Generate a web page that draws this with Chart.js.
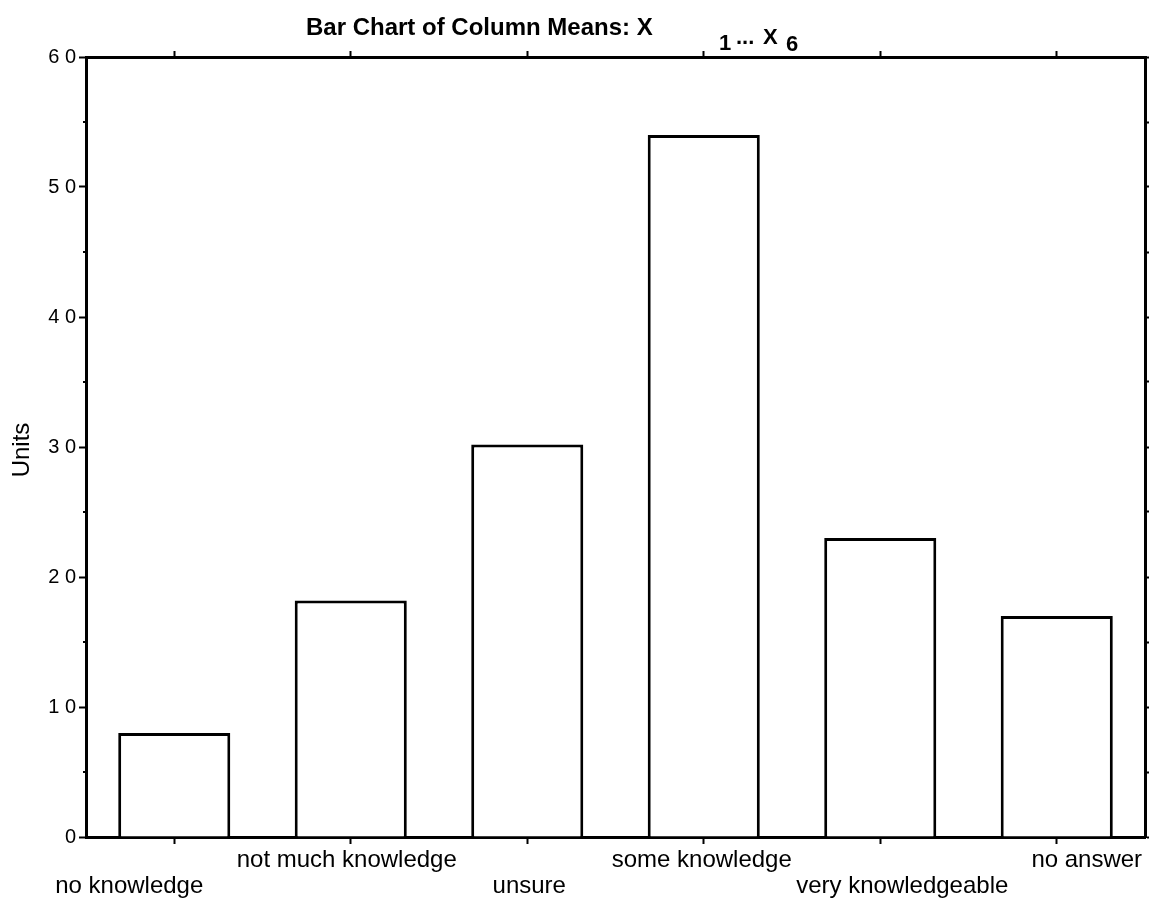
<!DOCTYPE html>
<html>
<head>
<meta charset="utf-8">
<script src="https://cdn.jsdelivr.net/npm/chart.js@4/dist/chart.umd.min.js"></script>
<style>
  html, body { margin: 0; padding: 0; background: #fff; }
  #wrap { width: 1157px; height: 905px; position: relative; }
</style>
</head>
<body>
<div id="wrap"><canvas id="meansChart"></canvas></div>
<script>
// du lieu doc tu hinh
const categories = ['no knowledge', 'not much knowledge', 'unsure', 'some knowledge', 'very knowledgeable', 'no answer'];
const columnMeans = [8, 18.2, 30.2, 54, 23, 17];
const yTickValues = [0, 10, 20, 30, 40, 50, 60];

const FONT = "'Liberation Sans', Arial, Helvetica, sans-serif";

// nhan truc x: hang tren / hang duoi xen ke, lech nhe nhu ban goc
const labelNudge = [-45, -4, 2, -2, 22, 30];

const framePlugin = {
    id: 'framePlugin',
    afterDraw(chart) {
        const ctx = chart.ctx;
        const x = chart.scales.x;
        const y = chart.scales.y;
        ctx.save();
        ctx.fillStyle = '#000';
        ctx.strokeStyle = '#000';

        // vach phu (5, 15, ...) ben trai
        ctx.lineWidth = 2;
        for (let v = 5; v < 60; v += 10) {
            const py = y.getPixelForValue(v);
            ctx.beginPath();
            ctx.moveTo(x.left - 3, py);
            ctx.lineTo(x.left, py);
            ctx.stroke();
        }

        // nhan danh muc
        ctx.font = `24px ${FONT}`;
        ctx.textAlign = 'center';
        ctx.textBaseline = 'middle';
        categories.forEach((c, i) => {
            const px = x.getPixelForTick(i) + labelNudge[i];
            const py = (i % 2 === 0) ? 886 : 860;
            ctx.fillText(c, px, py);
        });

        // tieu de truc y
        ctx.save();
        ctx.translate(22, 450);
        ctx.rotate(-Math.PI / 2);
        ctx.font = `24px ${FONT}`;
        ctx.fillText('Units', 0, 0);
        ctx.restore();

        // tieu de bieu do (co chi so duoi)
        ctx.textAlign = 'left';
        ctx.textBaseline = 'alphabetic';
        ctx.font = `bold 24px ${FONT}`;
        ctx.fillText('Bar Chart of Column Means: X', 306, 35);
        ctx.font = `bold 22px ${FONT}`;
        ctx.fillText('1', 719, 50);
        ctx.fillText('...', 736, 44);
        ctx.fillText('X', 763, 44);
        ctx.fillText('6', 786, 51);
        ctx.restore();
    }
};

function renderMeansChart(chartId) {
    const ctx = document.getElementById(chartId).getContext('2d');

    return new Chart(ctx, {
        type: 'bar',
        data: {
            labels: categories,
            datasets: [{
                label: 'Column means',
                data: columnMeans,
                backgroundColor: '#fff',
                borderColor: '#000',
                borderWidth: 3,
                barPercentage: 0.635,
                categoryPercentage: 1
            }]
        },
        options: {
            responsive: true,
            maintainAspectRatio: false,
            animation: false,
            layout: { padding: 0 },
            plugins: {
                legend: { display: false },
                tooltip: { enabled: false },
                title: { display: false }
            },
            scales: {
                x: {
                    position: 'bottom',
                    offset: true,
                    grid: { offset: false, drawOnChartArea: false, tickLength: 7, tickColor: '#000', tickWidth: 2 },
                    border: { display: true, color: '#000', width: 3 },
                    ticks: { display: false },
                    afterFit(axis) { axis.height = 68; }
                },
                x2: {
                    type: 'category',
                    position: 'top',
                    offset: true,
                    grid: { offset: false, drawOnChartArea: false, tickLength: 6, tickColor: '#000', tickWidth: 2 },
                    border: { display: true, color: '#000', width: 3 },
                    ticks: { display: false },
                    afterFit(axis) { axis.height = 57; }
                },
                y: {
                    position: 'left',
                    min: 0,
                    max: 60,
                    afterBuildTicks(axis) {
                        axis.ticks = yTickValues.map(v => ({ value: v }));
                    },
                    grid: { drawOnChartArea: false, tickLength: 7, tickColor: '#000', tickWidth: 2 },
                    border: { display: true, color: '#000', width: 3 },
                    ticks: {
                        color: '#000',
                        padding: 3,
                        font: { family: FONT, size: 20 },
                        callback: (v) => String(v).split('').join(' ')
                    },
                    afterFit(axis) { axis.width = 86; }
                },
                y2: {
                    type: 'linear',
                    position: 'right',
                    min: 0,
                    max: 60,
                    ticks: { display: false, stepSize: 5 },
                    grid: { drawOnChartArea: false, tickLength: 4, tickColor: '#000', tickWidth: 2 },
                    border: { display: true, color: '#000', width: 3 },
                    afterFit(axis) { axis.width = 12; }
                }
            }
        },
        plugins: [framePlugin]
    });
}

renderMeansChart('meansChart');
</script>
</body>
</html>
